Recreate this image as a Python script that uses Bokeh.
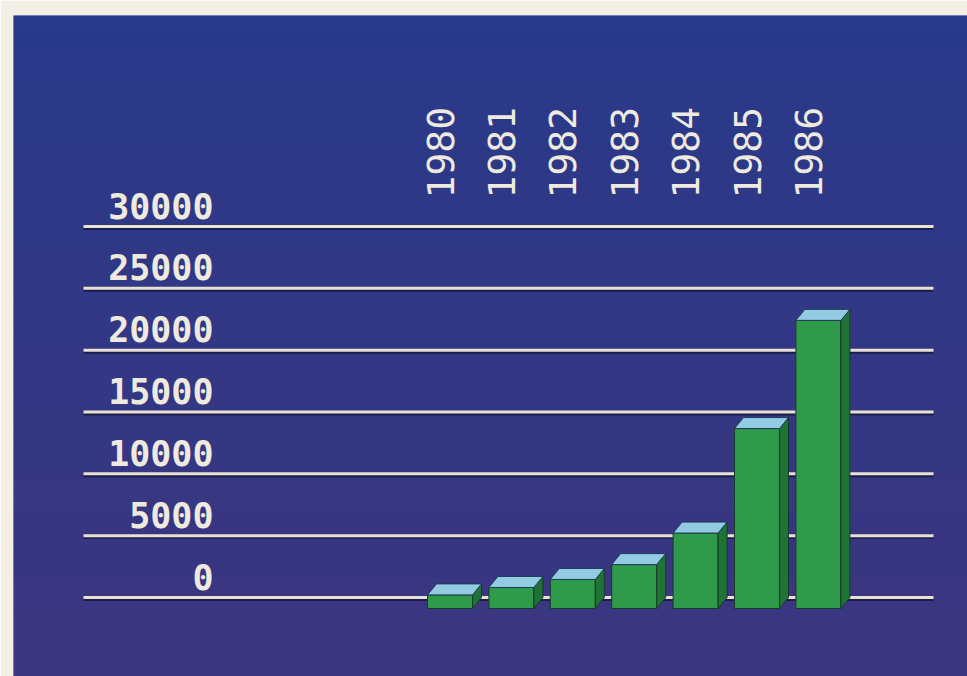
import numpy as np
from bokeh.plotting import figure
from bokeh.embed import file_html
from bokeh.resources import INLINE
from bokeh.core.properties import value

# ---- data ----
years = ["1980", "1981", "1982", "1983", "1984", "1985", "1986"]
values = [1100, 1700, 2350, 3550, 6100, 14550, 23300]
tick_values = [0, 5000, 10000, 15000, 20000, 25000, 30000]
tick_labels = ["0", "5000", "10000", "15000", "20000", "25000", "30000"]

# ---- layout constants (screen pixels) ----
W, H = 967, 676
LEFT, TOP = 13, 15
PX_X = 61.4            # px per category step
PX_Y = 61.83 / 5000.0  # px per value unit
X0_PX = 449.5          # screen x of first bar's front-face centre
Y0_PX = 597.0          # screen y of value 0

def xu(px):
    return (px - X0_PX) / PX_X

def yu(px):
    return (Y0_PX - px) / PX_Y

x_start, x_end = xu(LEFT), xu(W)
y_start, y_end = yu(H), yu(TOP)

p = figure(width=W, height=H, x_range=(x_start, x_end), y_range=(y_start, y_end),
           min_border_left=LEFT, min_border_top=TOP, min_border_right=0,
           min_border_bottom=0, output_backend="svg", toolbar_location=None)
p.axis.visible = False
p.grid.visible = False
p.outline_line_color = None
p.border_fill_color = "#f3efe5"
p.background_fill_color = "#2a3889"

# background gradient bands (blue top -> violet bottom)
n = 40
c_top = np.array([0x29, 0x3a, 0x8a])
c_bot = np.array([0x3d, 0x36, 0x80])
edges = np.linspace(y_end, y_start, n + 1)
cols = []
for k in range(n):
    t = k / (n - 1)
    c = (c_top * (1 - t) + c_bot * t).astype(int)
    cols.append("#%02x%02x%02x" % tuple(c))
p.quad(left=x_start, right=x_end, top=edges[:-1], bottom=edges[1:],
       fill_color=cols, line_color=None)

# gridlines with dark shadow
gx0, gx1 = xu(83), xu(933)
tv = np.array(tick_values, dtype=float)
p.segment(x0=gx0, x1=gx1, y0=tv - 2.2 / PX_Y, y1=tv - 2.2 / PX_Y,
          line_color="#161640", line_width=2.5, line_alpha=0.8)
p.segment(x0=gx0, x1=gx1, y0=tv, y1=tv, line_color="#e9e1d2", line_width=3)

# value labels
p.text(x=xu(213), y=tv + 21 / PX_Y, text=tick_labels,
       text_font=value("DejaVu Sans Mono"), text_font_size="35px",
       text_font_style="bold", text_color="#eeeadf",
       text_align="right", text_baseline="middle")

# year labels (rotated)
idx = np.arange(len(years), dtype=float)
p.text(x=idx - 10 / PX_X, y=yu(198), text=years, angle=np.pi / 2,
       text_font=value("DejaVu Sans Mono"), text_font_size="38px",
       text_color="#eeeadf", text_align="left", text_baseline="middle")

# 3D bars
w = 45 / PX_X
dx = 9 / PX_X
dy = 11 / PX_Y
v = np.array(values, dtype=float)
left = idx - w / 2
right = idx + w / 2
ftop = v - dy

p.quad(left=left, right=right, bottom=-dy, top=ftop,
       fill_color="#2f9a4a", line_color="#173a26", line_width=1)
side_xs = [[r, r + dx, r + dx, r] for r in right]
side_ys = [[-dy, 0, val, val - dy] for val in v]
p.patches(side_xs, side_ys, fill_color="#1f7336", line_color="#173a26", line_width=1)
top_xs = [[l, r, r + dx, l + dx] for l, r in zip(left, right)]
top_ys = [[val - dy, val - dy, val, val] for val in v]
p.patches(top_xs, top_ys, fill_color="#92cbe2", line_color="#1d3c5a", line_width=1)

open("out.html", "w").write(file_html(p, INLINE))
